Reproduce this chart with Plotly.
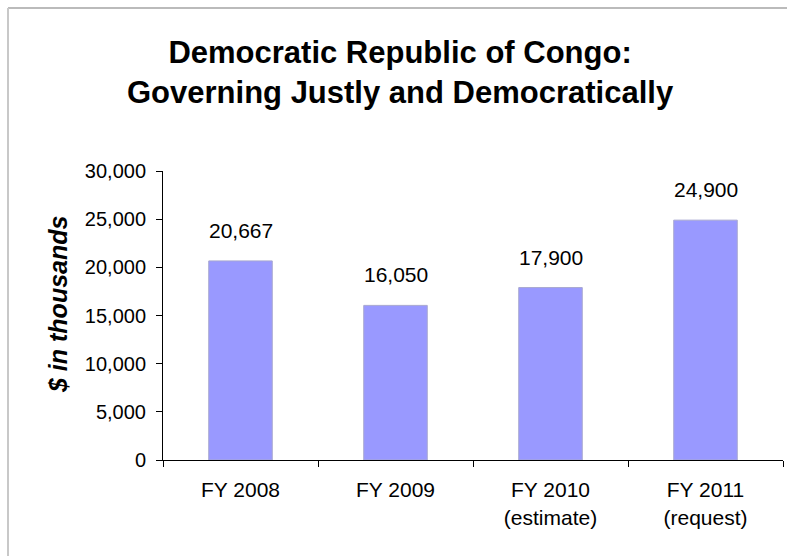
import plotly.graph_objects as go

categories = ["FY 2008", "FY 2009", "FY 2010<br>(estimate)", "FY 2011<br>(request)"]
values = [20667, 16050, 17900, 24900]
value_labels = ["20,667", "16,050", "17,900", "24,900"]

FONT = "Liberation Sans, Arial, sans-serif"
L, R, T, B = 163, 4, 171, 96
PW, PH = 787 - L - R, 556 - T - B

def px_x(x):
    return (x - L) / PW

def px_y(y):
    return (556 - B - y) / PH

fig = go.Figure()
fig.add_trace(go.Bar(
    x=categories, y=values, width=0.41,
    marker=dict(color="#9999FF", line=dict(color="#A8A8D0", width=1)),
    hoverinfo="skip",
))

for c, v, t in zip(categories, values, value_labels):
    fig.add_annotation(x=c, y=v, text=t, showarrow=False, yanchor="bottom",
                       yshift=17, font=dict(family=FONT, size=21, color="black"))

fig.add_annotation(xref="paper", yref="paper", x=px_x(400), y=px_y(73),
                   text="<b>Democratic Republic of Congo:<br>Governing Justly and Democratically</b>",
                   showarrow=False, xanchor="center", yanchor="middle",
                   font=dict(family=FONT, size=31, color="black"))

fig.add_annotation(xref="paper", yref="paper", x=px_x(58), y=px_y(304),
                   text="<b><i>$ in thousands</i></b>", textangle=-90,
                   showarrow=False, xanchor="center", yanchor="middle",
                   font=dict(family=FONT, size=25, color="black"))

fig.update_layout(
    width=787, height=556,
    margin=dict(l=L, r=R, t=T, b=B),
    paper_bgcolor="white", plot_bgcolor="white",
    showlegend=False,
    font=dict(family=FONT, size=21, color="black"),
    xaxis=dict(showline=True, linecolor="black", linewidth=1,
               ticks="outside", tickson="boundaries", ticklen=6, tickcolor="black",
               tickfont=dict(size=21), showgrid=False, ticklabelstandoff=11),
    yaxis=dict(range=[0, 30000], dtick=5000, tickformat=",d",
               showline=True, linecolor="black", linewidth=1,
               ticks="outside", ticklen=6, tickcolor="black",
               showgrid=False, zeroline=False, tickfont=dict(size=20),
               ticklabelstandoff=6),
)

# page border (light gray frame starting at top-left, running off the right/bottom)
fig.add_shape(type="line", xref="paper", yref="paper",
              x0=px_x(8), x1=px_x(800), y0=px_y(8), y1=px_y(8),
              line=dict(color="#BBBBBB", width=2))
fig.add_shape(type="line", xref="paper", yref="paper",
              x0=px_x(8), x1=px_x(8), y0=px_y(8), y1=px_y(570),
              line=dict(color="#C8C8C8", width=2))

fig.write_html("out.html")
